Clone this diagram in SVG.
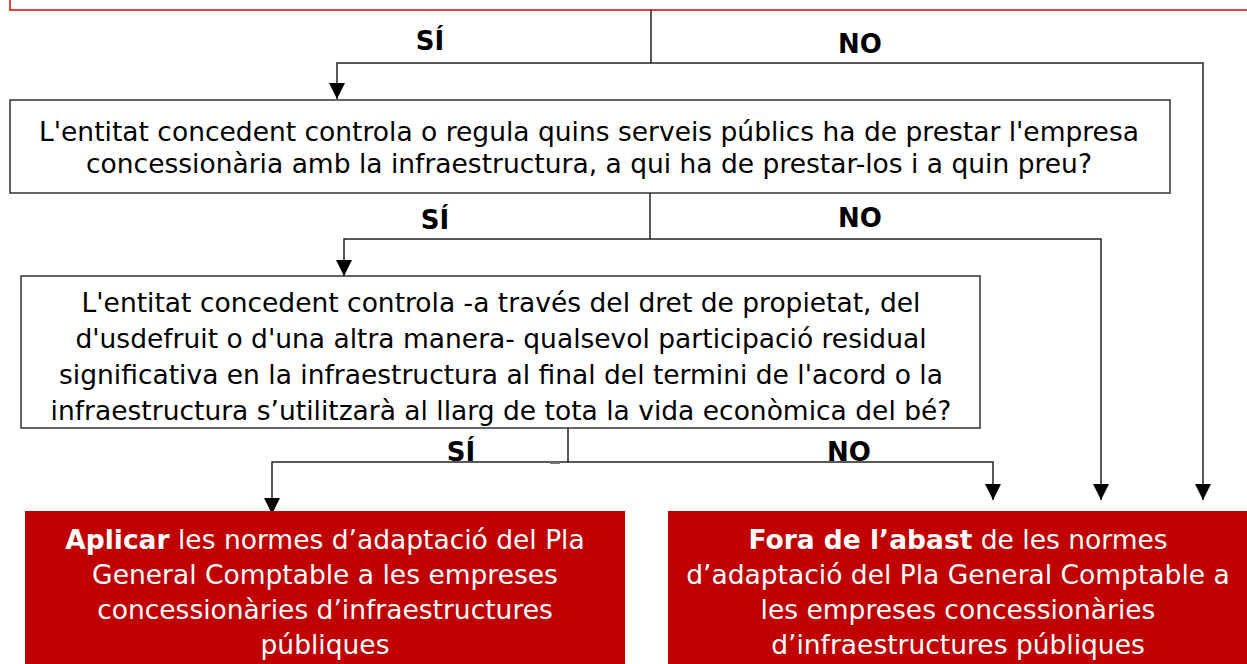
<svg xmlns="http://www.w3.org/2000/svg" width="1247" height="664" viewBox="0 0 1247 664">
<style>
.q{fill:#fff;stroke:#333;stroke-width:1.5}
.r{fill:#C00000;stroke:none}
.t{font-family:"DejaVu Sans",Verdana,sans-serif;font-size:26.5px;fill:#000;text-anchor:middle}
.w{font-family:"DejaVu Sans",Verdana,sans-serif;font-size:26.5px;fill:#fff;text-anchor:middle}
.l{font-family:"DejaVu Sans",Verdana,sans-serif;font-size:26px;font-weight:bold;fill:#000;text-anchor:middle}
.c{fill:none;stroke:#222;stroke-width:1.5}
</style>
<defs>
<marker id="ah" viewBox="0 0 16 16" refX="16" refY="8" markerWidth="16" markerHeight="16" markerUnits="userSpaceOnUse" orient="auto">
<path d="M0,0 L16,8 L0,16 Z" fill="#000"/>
</marker>
</defs>
<rect width="1247" height="664" fill="#fff"/>
<g id="top">
<rect x="10" y="-20" width="1260" height="30" fill="#fff" stroke="#E00000" stroke-width="1.5"/>
</g>
<g id="connectors">
<path class="c" d="M651,10 V63"/>
<path class="c" d="M651,63 H337 V99" marker-end="url(#ah)"/>
<path class="c" d="M651,63 H1203 V500" marker-end="url(#ah)"/>
<path class="c" d="M650,193 V239"/>
<path class="c" d="M650,239 H344 V276" marker-end="url(#ah)"/>
<path class="c" d="M650,239 H1101 V500" marker-end="url(#ah)"/>
<path class="c" d="M568,428 V462"/>
<path class="c" d="M568,462 H272 V514" marker-end="url(#ah)"/>
<path class="c" d="M568,462 H993 V500" marker-end="url(#ah)"/>
<path d="M550,463 H560" stroke="#777" stroke-width="2"/>
</g>
<g id="labels">
<text class="l" x="430" y="50">SÍ</text>
<text class="l" x="860" y="53">NO</text>
<text class="l" x="435" y="229">SÍ</text>
<text class="l" x="860" y="227">NO</text>
<text class="l" x="461" y="461">SÍ</text>
<text class="l" x="849" y="461">NO</text>
</g>
<g id="q1">
<rect class="q" x="10" y="100" width="1160" height="93"/>
<text class="t" x="589" y="141">L'entitat concedent controla o regula quins serveis públics ha de prestar l'empresa</text>
<text class="t" x="589" y="173">concessionària amb la infraestructura, a qui ha de prestar-los i a quin preu?</text>
</g>
<g id="q2">
<rect class="q" x="21" y="276" width="959" height="152"/>
<text class="t" x="501" y="312">L'entitat concedent controla -a través del dret de propietat, del</text>
<text class="t" x="501" y="348">d'usdefruit o d'una altra manera- qualsevol participació residual</text>
<text class="t" x="501" y="384">significativa en la infraestructura al final del termini de l'acord o la</text>
<text class="t" x="501" y="420">infraestructura s’utilitzarà al llarg de tota la vida econòmica del bé?</text>
</g>
<g id="apply">
<rect class="r" x="25" y="511" width="600" height="160"/>
<text class="w" x="325" y="549"><tspan font-weight="bold">Aplicar</tspan> les normes d’adaptació del Pla</text>
<text class="w" x="325" y="584">General Comptable a les empreses</text>
<text class="w" x="325" y="619">concessionàries d’infraestructures</text>
<text class="w" x="325" y="654">públiques</text>
</g>
<g id="out">
<rect class="r" x="668" y="511" width="590" height="160"/>
<text class="w" x="958" y="549"><tspan font-weight="bold">Fora de l’abast</tspan> de les normes</text>
<text class="w" x="958" y="584">d’adaptació del Pla General Comptable a</text>
<text class="w" x="958" y="619">les empreses concessionàries</text>
<text class="w" x="958" y="654">d’infraestructures públiques</text>
</g>
</svg>
